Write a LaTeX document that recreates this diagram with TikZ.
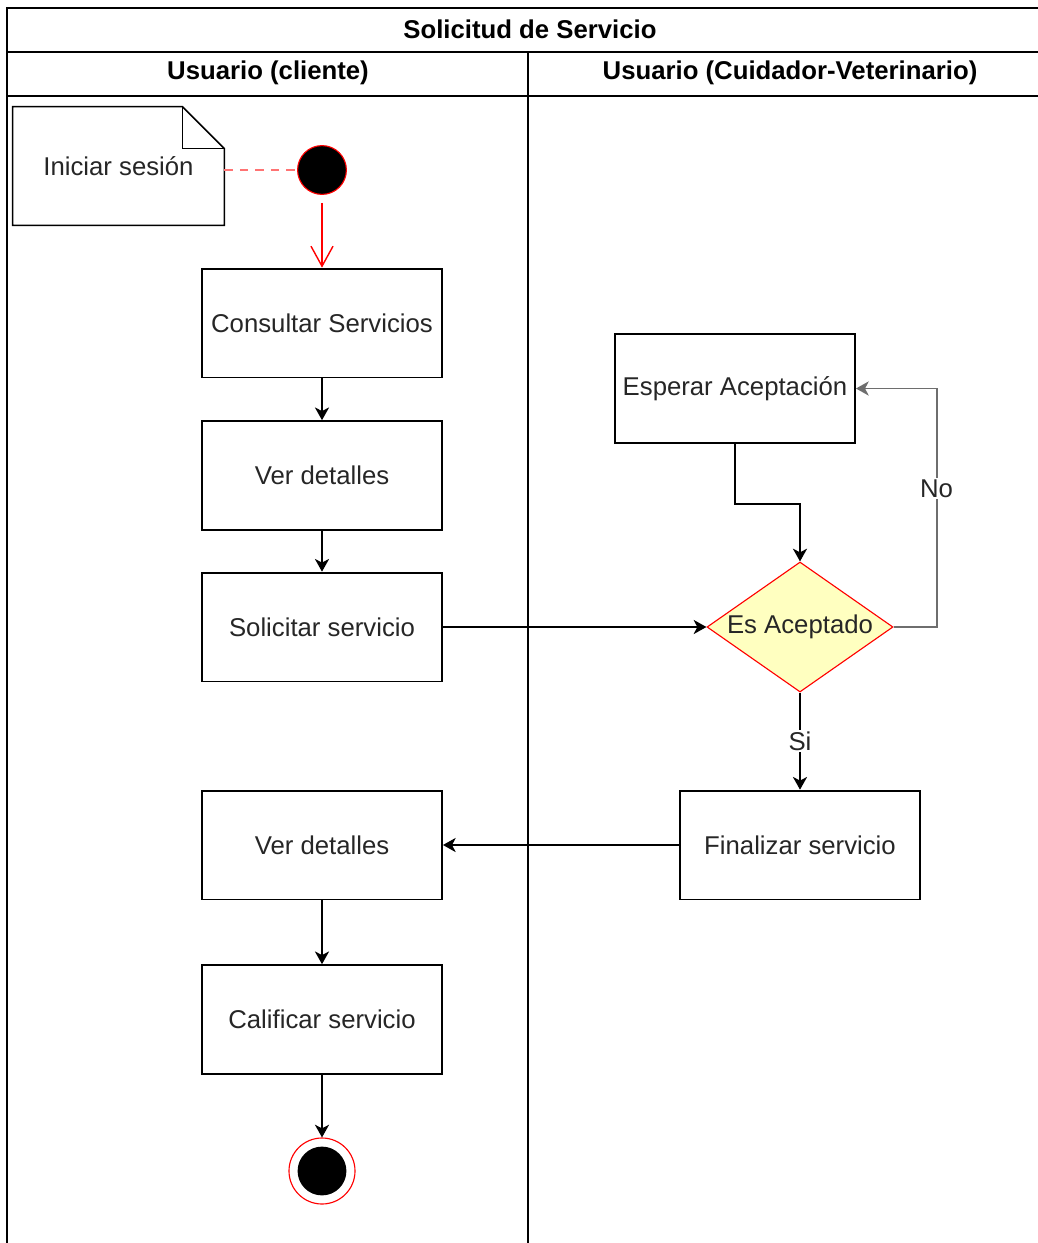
\documentclass[tikz,border=0pt]{standalone}
\usepackage{fontspec}
\setmainfont{Liberation Sans}
\usetikzlibrary{shapes.geometric,arrows.meta}

\tikzset{
	activity/.style={draw,line width=1.3pt,minimum width=6cm,minimum height=2.72cm,text=black!85},
	decision/.style={diamond,draw=red,fill=notefill,line width=0.8pt,minimum width=4.65cm,minimum height=3.25cm,inner sep=0pt},
	flow/.style={line width=1.3pt,-{Stealth[length=9pt,width=10pt,inset=2.5pt]}},
	lane/.style={line width=1.3pt}
}

\begin{document}
\begin{tikzpicture}[x=0.025cm,y=-0.025cm,font=\fontsize{18.3pt}{22pt}\selectfont]
	\definecolor{notefill}{HTML}{FFFFC0}
	\definecolor{deepgray}{HTML}{6E6E6E}
	\useasboundingbox (0,0) rectangle (1038,1243);

	% swimlanes
	\draw[lane] (7,1243) -- (7,8) -- (1038,8);
	\draw[lane] (7,52) -- (1038,52);
	\draw[lane] (7,96) -- (1038,96);
	\draw[lane] (528,52) -- (528,1243);
	\node[font=\fontsize{18.3pt}{22pt}\selectfont\bfseries] (pool) at (530,29) {Solicitud de Servicio};
	\node[font=\fontsize{18.3pt}{22pt}\selectfont\bfseries] (cliente) at (268,73) {Usuario (cliente)};
	\node[font=\fontsize{18.3pt}{22pt}\selectfont\bfseries] (cuidador) at (790,73) {Usuario (Cuidador-Veterinario)};

	% note
	\node[minimum width=5.28cm,minimum height=2.95cm,text=black!85] (note) at (118.5,166) {Iniciar sesi\'on};
	\draw[line width=1.1pt] (note.north west) -- ([xshift=-1.05cm]note.north east) -- ([yshift=-1.05cm]note.north east) -- (note.south east) -- (note.south west) -- cycle;
	\draw[line width=1.1pt] ([xshift=-1.05cm]note.north east) -- ([xshift=-1.05cm,yshift=-1.05cm]note.north east) -- ([yshift=-1.05cm]note.north east);

	% start and end
	\node[circle,fill=black,draw=red,line width=0.8pt,minimum size=1.22cm,inner sep=0pt] (start) at (322,170) {};
	\node[circle,draw=red,line width=0.8pt,minimum size=1.65cm,inner sep=0pt] (final) at (322,1171) {};
	\node[circle,fill=black,minimum size=1.22cm,inner sep=0pt] (finaldot) at (final) {};

	% activities
	\node[activity] (consultar) at (322,323) {Consultar Servicios};
	\node[activity] (detalles) at (322,475.5) {Ver detalles};
	\node[activity] (solicitar) at (322,627) {Solicitar servicio};
	\node[activity] (detallesdos) at (322,845) {Ver detalles};
	\node[activity] (calificar) at (322,1019.5) {Calificar servicio};
	\node[activity] (esperar) at (735,388.5) {Esperar Aceptaci\'on};
	\node[decision,label={[text=black!85]center:Es Aceptado}] (aceptado) at (800,627) {};
	\node[activity] (finalizar) at (800,845) {Finalizar servicio};

	% connectors
	\draw[red!55,line width=0.9pt,dash pattern=on 6pt off 5pt] (start.west -| note.east) -- (start.west);
	\draw[red,line width=1pt,shorten <=0.2cm,-{Straight Barb[length=0.5cm,width=0.55cm]}] (start) -- (consultar);
	\draw[flow] (consultar) -- (detalles);
	\draw[flow] (detalles) -- (solicitar);
	\draw[flow] (solicitar) -- (aceptado.west);
	\draw[flow] (esperar.south) -- ++(0,60) -| (aceptado.north);
	\draw[flow,deepgray] (aceptado.east) -- ++(43,0) |- (esperar.east) node[pos=0.29,fill=white,text=black!85,inner sep=1pt] {No};
	\draw[flow] (aceptado.south) -- (finalizar.north) node[midway,fill=white,text=black!85,inner sep=1pt] {Si};
	\draw[flow] (finalizar) -- (detallesdos);
	\draw[flow] (detallesdos) -- (calificar);
	\draw[flow] (calificar) -- (final);
\end{tikzpicture}
\end{document}
